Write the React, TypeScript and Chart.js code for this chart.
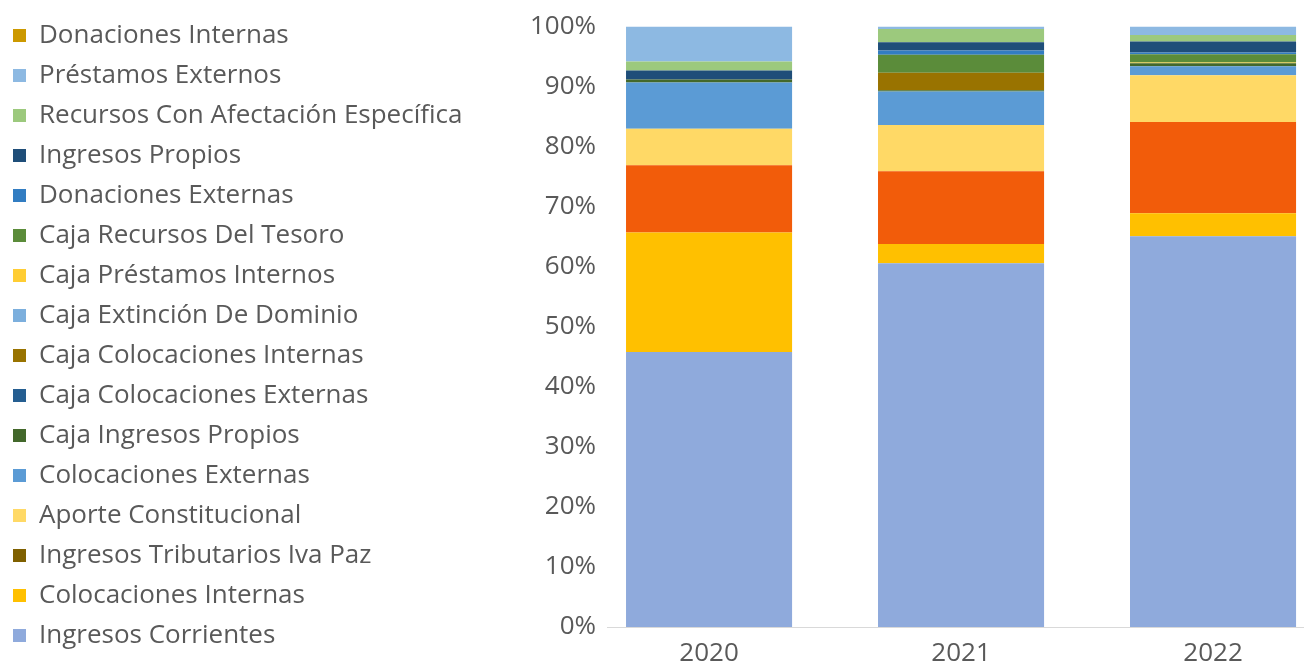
import { useEffect, useRef } from "react";
import { Chart, registerables } from "chart.js";

Chart.register(...registerables);

const years = [2020, 2021, 2022];
const tickLabels = [0, 10, 20, 30, 40, 50, 60, 70, 80, 90, 100];

// values in % of each year's total, bottom to top of the stack
const ingresosCorrientes = [45.8, 60.6, 65.1];
const colocacionesInternas = [19.9, 3.2, 3.8];
const ingresosTributariosIvaPaz = [11.2, 12.1, 15.2];
const aporteConstitucional = [6.1, 7.7, 7.8];
const colocacionesExternas = [7.7, 5.6, 1.5];
const cajaIngresosPropios = [0.5, 0.2, 0.5];
const cajaColocacionesExternas = [0, 0, 0];
const cajaColocacionesInternas = [0, 2.9, 0];
const cajaExtincionDeDominio = [0, 0, 0];
const cajaPrestamosInternos = [0, 0, 0.1];
const cajaRecursosDelTesoro = [0, 3.0, 1.4];
const donacionesExternas = [0, 0.7, 0.3];
const ingresosPropios = [1.5, 1.4, 1.8];
const recursosConAfectacion = [1.5, 2.2, 1.1];
const prestamosExternos = [5.8, 0.4, 1.4];
const donacionesInternas = [0, 0, 0];

const series = [
  { label: "Ingresos Corrientes", data: ingresosCorrientes, color: "#8FAADC" },
  { label: "Colocaciones Internas", data: colocacionesInternas, color: "#FFC000" },
  { label: "Ingresos Tributarios Iva Paz", data: ingresosTributariosIvaPaz, color: "#F25C0A", legendColor: "#7F6000" },
  { label: "Aporte Constitucional", data: aporteConstitucional, color: "#FFD966" },
  { label: "Colocaciones Externas", data: colocacionesExternas, color: "#5B9BD5" },
  { label: "Caja Ingresos Propios", data: cajaIngresosPropios, color: "#43682B" },
  { label: "Caja Colocaciones Externas", data: cajaColocacionesExternas, color: "#255E91" },
  { label: "Caja Colocaciones Internas", data: cajaColocacionesInternas, color: "#997300" },
  { label: "Caja Extinción De Dominio", data: cajaExtincionDeDominio, color: "#7CAFDD" },
  { label: "Caja Préstamos Internos", data: cajaPrestamosInternos, color: "#FFCD33" },
  { label: "Caja Recursos Del Tesoro", data: cajaRecursosDelTesoro, color: "#5B8C3A" },
  { label: "Donaciones Externas", data: donacionesExternas, color: "#327DC2" },
  { label: "Ingresos Propios", data: ingresosPropios, color: "#1F4E79" },
  { label: "Recursos Con Afectación Específica", data: recursosConAfectacion, color: "#9CC97D" },
  { label: "Préstamos Externos", data: prestamosExternos, color: "#8DB9E2" },
  { label: "Donaciones Internas", data: donacionesInternas, color: "#CC9900" },
];

const TEXT = "#595959";
const FONT = "'Open Sans', sans-serif";
const PLOT_LEFT = 607;
const PAD_LEFT = -1;
const LEGEND_WIDTH = 500;

const legendWidthPlugin = {
  id: "legendWidth",
  beforeUpdate(chart: any) {
    const lg: any = chart.legend;
    if (lg && !lg.__patched) {
      const orig = lg.fit.bind(lg);
      lg.fit = () => {
        orig();
        lg.width = LEGEND_WIDTH;
      };
      lg.__patched = true;
    }
  },
};

export default function App() {
  const ref = useRef<HTMLCanvasElement | null>(null);

  useEffect(() => {
    if (!ref.current) return;
    const chart = new Chart(ref.current, {
      type: "bar",
      data: {
        datasets: series.map((s) => ({
          label: s.label,
          data: s.data.map((v, i) => ({ x: years[i], y: v })),
          backgroundColor: s.color,
          borderWidth: 0,
          categoryPercentage: 1,
          barPercentage: 0.659,
        })),
      },
      plugins: [legendWidthPlugin],
      options: {
        animation: false,
        responsive: true,
        maintainAspectRatio: false,
        layout: { padding: { left: PAD_LEFT, top: 8, right: 0, bottom: 0 } },
        plugins: {
          tooltip: { enabled: false },
          legend: {
            position: "left",
            align: "center",
            reverse: true,
            labels: {
              boxWidth: 13,
              boxHeight: 13,
              padding: 14,
              color: TEXT,
              font: { family: FONT, size: 26 },
              generateLabels: (ch: any) => {
                const items = Chart.defaults.plugins.legend.labels.generateLabels(ch);
                return items.map((it: any) => {
                  const s = series[it.datasetIndex];
                  const c = s.legendColor || s.color;
                  return { ...it, fillStyle: c, strokeStyle: c, lineWidth: 0 };
                });
              },
            },
          },
        },
        scales: {
          x: {
            type: "linear",
            stacked: true,
            offset: false,
            min: 2019.595,
            max: 2022.361,
            grid: { display: false, drawTicks: false },
            border: { display: true, color: "#D9D9D9", width: 1 },
            ticks: {
              stepSize: 1,
              includeBounds: false,
              color: TEXT,
              padding: 11,
              font: { family: FONT, size: 26 },
              callback: (v: any) => String(v),
            },
            afterFit: (scale: any) => {
              scale.height = 36;
            },
          },
          y: {
            stacked: true,
            min: 0,
            max: 100,
            grid: { display: false, drawTicks: false },
            border: { display: false },
            ticks: {
              stepSize: 10,
              color: TEXT,
              padding: 11,
              font: { family: FONT, size: 26 },
              callback: (v: any) => (tickLabels.includes(v) ? v + "%" : ""),
            },
            afterFit: (scale: any) => {
              const lg = scale.chart.legend;
              const lw = lg ? lg.width : 0;
              scale.width = PLOT_LEFT - PAD_LEFT - lw;
            },
          },
        },
      },
    });
    return () => chart.destroy();
  }, []);

  return (
    <div style={{ position: "absolute", left: 0, top: 0, width: 1304, height: 663, overflow: "hidden" }}>
      <canvas ref={ref} />
    </div>
  );
}
